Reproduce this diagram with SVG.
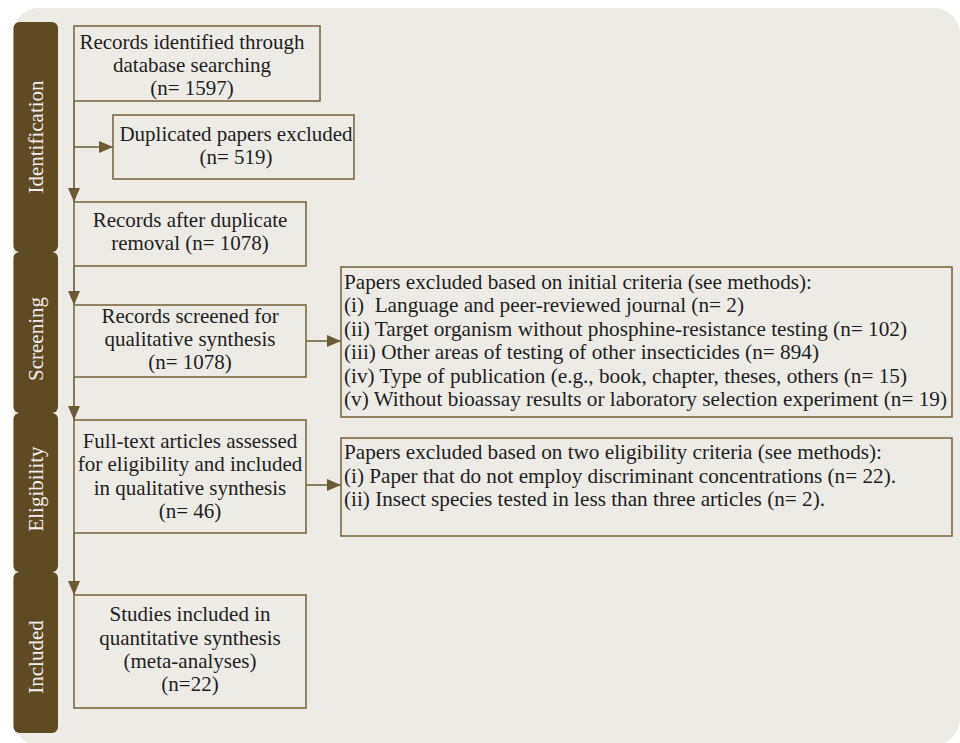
<svg xmlns="http://www.w3.org/2000/svg" width="960" height="743" viewBox="0 0 960 743">
<defs>
<style>
.bg{fill:#EDEBE6}
.tab{fill:#5E4B22}
.tabtxt{font-family:"Liberation Serif","Times New Roman",serif;font-size:21px;fill:#F2F0EA;text-anchor:middle}
.box{fill:#EDEBE6;stroke:#7A6A44;stroke-width:1.6}
.t{font-family:"Liberation Serif","Times New Roman",serif;font-size:21px;fill:#1E1E1E;text-anchor:middle}
.tl{font-family:"Liberation Serif","Times New Roman",serif;font-size:21px;fill:#1E1E1E;text-anchor:start}
.conn{stroke:#6B5A33;stroke-width:1.6;fill:none}
</style>
<marker id="ah" markerWidth="14" markerHeight="12" refX="14" refY="6" orient="auto" markerUnits="userSpaceOnUse">
<path d="M0,0 L14,6 L0,12 Z" fill="#6B5A33"/>
</marker>
</defs>

<rect class="bg" x="13" y="8" width="947" height="737" rx="26" ry="26"/>

<g id="tabs">
<g id="tab-identification">
<rect class="tab" x="13.5" y="22" width="44.5" height="230" rx="6" ry="6"/>
<text class="tabtxt" x="43" y="137" transform="rotate(-90 43 137)">Identification</text>
</g>
<g id="tab-screening">
<rect class="tab" x="13.5" y="252" width="44.5" height="161" rx="6" ry="6"/>
<text class="tabtxt" x="43" y="339" transform="rotate(-90 43 339)">Screening</text>
</g>
<g id="tab-eligibility">
<rect class="tab" x="13.5" y="413" width="44.5" height="159" rx="6" ry="6"/>
<text class="tabtxt" x="43" y="489" transform="rotate(-90 43 489)">Eligibility</text>
</g>
<g id="tab-included">
<rect class="tab" x="13.5" y="572" width="44.5" height="161" rx="6" ry="6"/>
<text class="tabtxt" x="43" y="657" transform="rotate(-90 43 657)">Included</text>
</g>
</g>

<g id="connectors">
<line class="conn" x1="74" y1="101" x2="74" y2="202" marker-end="url(#ah)"/>
<line class="conn" x1="74" y1="147" x2="113" y2="147" marker-end="url(#ah)"/>
<line class="conn" x1="74" y1="266" x2="74" y2="305" marker-end="url(#ah)"/>
<line class="conn" x1="74" y1="377" x2="74" y2="420" marker-end="url(#ah)"/>
<line class="conn" x1="74" y1="533" x2="74" y2="595" marker-end="url(#ah)"/>
<line class="conn" x1="306" y1="341" x2="341" y2="341" marker-end="url(#ah)"/>
<line class="conn" x1="306" y1="485" x2="341" y2="485" marker-end="url(#ah)"/>
</g>

<g id="node-identified">
<rect class="box" x="74" y="26" width="246" height="75"/>
<text class="t" x="192" y="49">Records identified through</text>
<text class="t" x="192" y="72">database searching</text>
<text class="t" x="192" y="95">(n= 1597)</text>
</g>

<g id="node-duplicates">
<rect class="box" x="113" y="115" width="241" height="64"/>
<text class="t" x="236" y="141">Duplicated papers excluded</text>
<text class="t" x="236" y="164">(n= 519)</text>
</g>

<g id="node-after-dup">
<rect class="box" x="74" y="202" width="232" height="64"/>
<text class="t" x="190" y="227">Records after duplicate</text>
<text class="t" x="190" y="250">removal (n= 1078)</text>
</g>

<g id="node-screened">
<rect class="box" x="74" y="305" width="232" height="72"/>
<text class="t" x="190" y="323">Records screened for</text>
<text class="t" x="190" y="346">qualitative synthesis</text>
<text class="t" x="190" y="369">(n= 1078)</text>
</g>

<g id="node-fulltext">
<rect class="box" x="74" y="420" width="232" height="113"/>
<text class="t" x="190" y="448">Full-text articles assessed</text>
<text class="t" x="190" y="471">for eligibility and included</text>
<text class="t" x="190" y="495">in qualitative synthesis</text>
<text class="t" x="190" y="518">(n= 46)</text>
</g>

<g id="node-included">
<rect class="box" x="74" y="595" width="232" height="113"/>
<text class="t" x="190" y="621">Studies included in</text>
<text class="t" x="190" y="645">quantitative synthesis</text>
<text class="t" x="190" y="668">(meta-analyses)</text>
<text class="t" x="190" y="691">(n=22)</text>
</g>

<g id="node-excluded-initial">
<rect class="box" x="341" y="267" width="611" height="150"/>
<text class="tl" x="344" y="289" textLength="468" lengthAdjust="spacingAndGlyphs">Papers excluded based on initial criteria (see methods):</text>
<text class="tl" x="344" y="312" textLength="400" lengthAdjust="spacingAndGlyphs" xml:space="preserve">(i)  Language and peer-reviewed journal (n= 2)</text>
<text class="tl" x="344" y="336" textLength="563" lengthAdjust="spacingAndGlyphs">(ii) Target organism without phosphine-resistance testing (n= 102)</text>
<text class="tl" x="344" y="359" textLength="475" lengthAdjust="spacingAndGlyphs">(iii) Other areas of testing of other insecticides (n= 894)</text>
<text class="tl" x="344" y="383" textLength="563" lengthAdjust="spacingAndGlyphs">(iv) Type of publication (e.g., book, chapter, theses, others (n= 15)</text>
<text class="tl" x="344" y="406" textLength="603" lengthAdjust="spacingAndGlyphs">(v) Without bioassay results or laboratory selection experiment (n= 19)</text>
</g>

<g id="node-excluded-eligibility">
<rect class="box" x="341" y="438" width="611" height="98"/>
<text class="tl" x="344" y="459" textLength="538" lengthAdjust="spacingAndGlyphs">Papers excluded based on two eligibility criteria (see methods):</text>
<text class="tl" x="344" y="483" textLength="552" lengthAdjust="spacingAndGlyphs">(i) Paper that do not employ discriminant concentrations (n= 22).</text>
<text class="tl" x="344" y="506" textLength="481" lengthAdjust="spacingAndGlyphs">(ii) Insect species tested in less than three articles (n= 2).</text>
</g>
</svg>
